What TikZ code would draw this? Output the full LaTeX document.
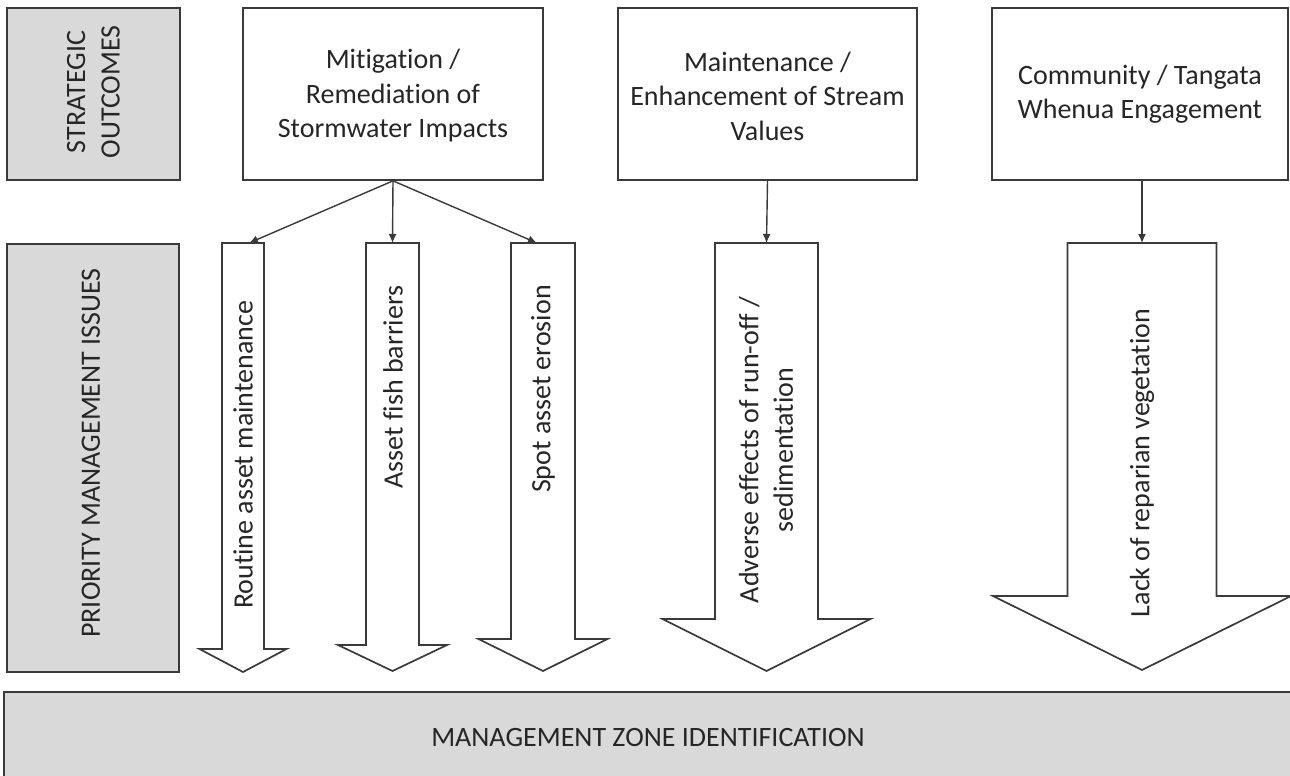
\documentclass[tikz,border=0pt]{standalone}
\usepackage{fontspec}
\setmainfont{Carlito}[Ligatures={NoCommon}]
\usetikzlibrary{arrows.meta}
\definecolor{lc}{HTML}{3A3A3A}
\definecolor{gf}{HTML}{D9D9D9}
\definecolor{tc}{HTML}{262626}
\newcommand\blockarr[7]{% name, cx, top, halfshaft, shoulder, halfhead, tip
  \draw[barrow] ({#2-#4},#3) -- ({#2+#4},#3) -- ({#2+#4},#5) -- ({#2+#6},#5)
    -- (#2,#7) -- ({#2-#6},#5) -- ({#2-#4},#5) -- cycle;
  \coordinate (#1) at (#2,#3);}
\begin{document}
\begin{tikzpicture}[x=1pt,y=-1pt,
  lbl/.style={text=tc, font=\fontsize{28}{34.5}\selectfont, align=center, inner sep=0pt},
  box/.style={draw=lc, line width=1.7pt, fill=white},
  greybox/.style={draw=lc, line width=1.7pt, fill=gf},
  conn/.style={draw=lc, line width=1.4pt, -{Latex[length=9pt,width=8pt]}},
  barrow/.style={draw=lc, line width=1.7pt, fill=white, line join=miter}]
\useasboundingbox (0,0) rectangle (1290,776);
\clip (0,0) rectangle (1290,776);

% left grey labels
\node[greybox, minimum width=173pt, minimum height=172pt] (so) at (93.5,94) {};
\node[lbl, rotate=90] (sot) at (93.5,92) {STRATEGIC\\OUTCOMES};
\node[greybox, minimum width=172pt, minimum height=428pt] (pmi) at (93,458) {};
\node[lbl, rotate=90] (pmit) at (91,453) {PRIORITY MANAGEMENT ISSUES};

% bottom bar
\node[greybox, minimum width=1292pt, minimum height=92pt] (mz) at (650,738) {};
\node[lbl] (mzt) at (648,738) {MANAGEMENT ZONE IDENTIFICATION};

% strategic outcome boxes
\node[box, minimum width=300pt, minimum height=172pt] (b1) at (393,94) {};
\node[lbl] (b1t) at (393,96) {Mitigation /\\Remediation of\\Stormwater Impacts};
\node[box, minimum width=299pt, minimum height=172pt] (b2) at (767.5,94) {};
\node[lbl] (b2t) at (767.5,96) {Maintenance /\\Enhancement of Stream\\Values};
\node[box, minimum width=296pt, minimum height=172pt] (b3) at (1140,94) {};
\node[lbl] (b3t) at (1140,94) {Community / Tangata\\Whenua Engagement};

% block arrows
\blockarr{a1}{243}{243}{21}{649}{43.5}{672}
\blockarr{a2}{392.5}{243}{26.5}{645}{54.5}{671}
\blockarr{a3}{543}{243}{32}{639}{64.5}{671}
\blockarr{a4}{766.5}{243}{51.5}{619}{104}{671}
\blockarr{a5}{1142}{243}{74.5}{596}{149}{670}

\node[lbl, rotate=90] (t1) at (243,455) {Routine asset maintenance};
\node[lbl, rotate=90] (t2) at (393,387) {Asset fish barriers};
\node[lbl, rotate=90] (t3) at (543,389) {Spot asset erosion};
\node[lbl, rotate=90] (t4) at (766,450) {Adverse effects of run-off /\\sedimentation};
\node[lbl, rotate=90] (t5) at (1142,463) {Lack of reparian vegetation};

% connector entry points
\coordinate (a1in) at (249,243);
\coordinate (a2in) at (392.5,243);
\coordinate (a3in) at (537,243);

\draw[conn] (b1.south) -- (a1in);
\draw[conn] (b1.south) -- (a2in);
\draw[conn] (b1.south) -- (a3in);
\draw[conn] (b2.south) -- (a4);
\draw[conn] (a5 |- b3.south) -- (a5);
\end{tikzpicture}
\end{document}
